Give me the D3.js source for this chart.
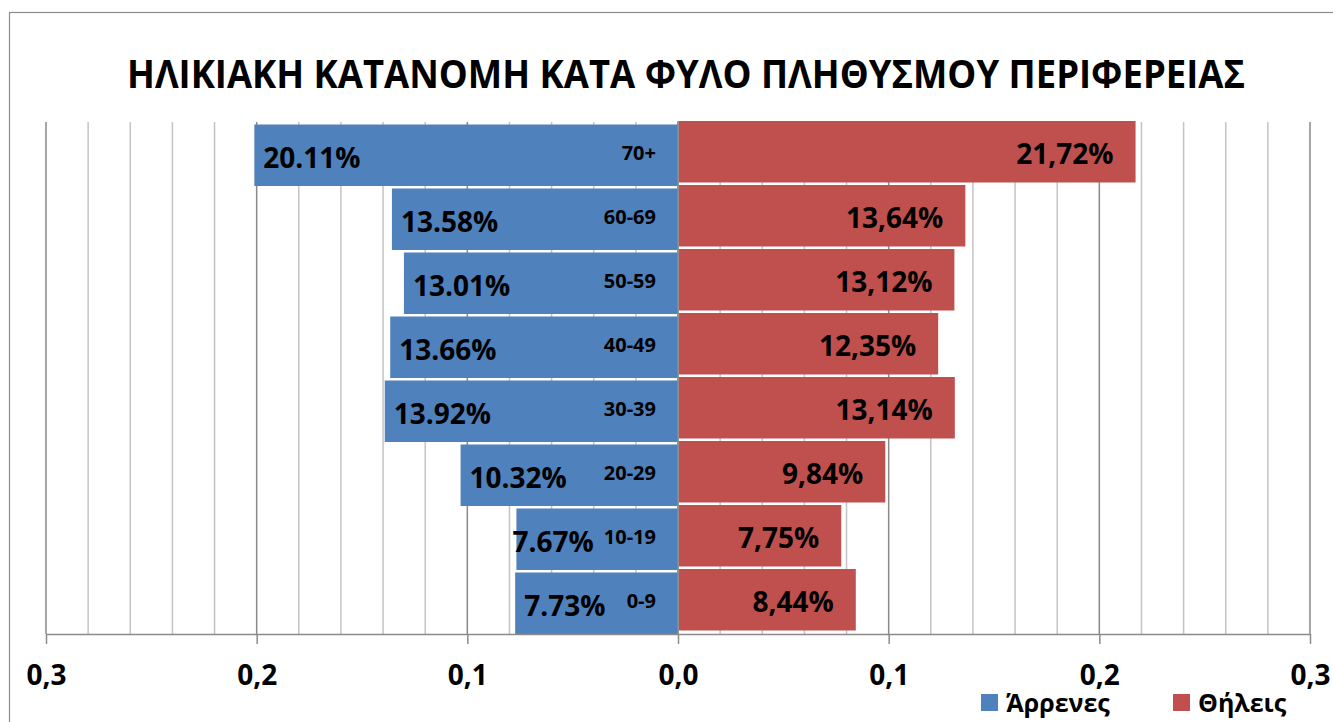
<!DOCTYPE html>
<html>
<head>
<meta charset="utf-8">
<script src="https://cdn.jsdelivr.net/npm/d3@7"></script>
<style>
  body { margin: 0; background: #fff; }
  svg { display: block; font-family: "Open Sans", "Noto Sans", sans-serif; font-weight: bold; }
</style>
</head>
<body>
<svg id="chart" width="1333" height="722"></svg>
<script>
// age groups, top to bottom
const ageGroups = ["70+", "60-69", "50-59", "40-49", "30-39", "20-29", "10-19", "0-9"];
const males = [0.2011, 0.1358, 0.1301, 0.1366, 0.1392, 0.1032, 0.0767, 0.0773];
const females = [0.2172, 0.1364, 0.1312, 0.1235, 0.1314, 0.0984, 0.0775, 0.0844];
const maleLabels = ["20.11%", "13.58%", "13.01%", "13.66%", "13.92%", "10.32%", "7.67%", "7.73%"];
const femaleLabels = ["21,72%", "13,64%", "13,12%", "12,35%", "13,14%", "9,84%", "7,75%", "8,44%"];
const xTicks = [-0.3, -0.2, -0.1, 0, 0.1, 0.2, 0.3];
const seriesNames = ["Άρρενες", "Θήλεις"];
const title = "ΗΛΙΚΙΑΚΗ ΚΑΤΑΝΟΜΗ ΚΑΤΑ ΦΥΛΟ ΠΛΗΘΥΣΜΟΥ ΠΕΡΙΦΕΡΕΙΑΣ";

const blue = "#4F81BD", red = "#C0504D";
const svg = d3.select("#chart");

// outer chart-area border (right/bottom edges fall outside the picture)
svg.append("rect")
    .attr("x", 9.5).attr("y", 12.5).attr("width", 1400).attr("height", 800)
    .attr("fill", "none").attr("stroke", "#8c8c8c").attr("stroke-width", 1.2);

const x = d3.scaleLinear().domain([-0.3, 0.3]).range([46, 1310]);
const y = d3.scaleBand().domain(ageGroups).range([122, 634]);
const bw = y.bandwidth();

// gridlines every 0.02, darker at every 0.1
const grid = d3.range(-15, 16).map(i => i * 0.02);
svg.append("g").selectAll("line").data(grid).join("line")
    .attr("x1", d => x(d)).attr("x2", d => x(d))
    .attr("y1", 122).attr("y2", 634)
    .attr("stroke", (d, i) => (i % 5 === 0) ? "#8a8a8a" : "#c4c4c4")
    .attr("stroke-width", 1.5);

// bars
const rows = ageGroups.map((g, i) => ({g, m: males[i], f: females[i], ml: maleLabels[i], fl: femaleLabels[i]}));

svg.append("g").selectAll("rect").data(rows).join("rect")
    .attr("x", d => x(-d.m)).attr("width", d => x(0) - x(-d.m))
    .attr("y", d => y(d.g) + 2.5).attr("height", bw - 2.5)
    .attr("fill", blue);

svg.append("g").selectAll("rect").data(rows).join("rect")
    .attr("x", x(0) + 1).attr("width", d => x(d.f) - x(0) - 1)
    .attr("y", d => y(d.g) - 1).attr("height", bw - 2.5)
    .attr("fill", red);

// vertical axis at zero
svg.append("line")
    .attr("x1", x(0)).attr("x2", x(0)).attr("y1", 121).attr("y2", 634)
    .attr("stroke", "#8a8a8a").attr("stroke-width", 1.5);

// bottom axis
const axis = d3.axisBottom(x).tickValues(xTicks).tickSize(10).tickSizeOuter(0)
    .tickFormat(d => Math.abs(d).toFixed(1).replace(".", ","));
const gx = svg.append("g").attr("transform", "translate(0,634)").call(axis);
gx.select(".domain").attr("stroke", "#8a8a8a").attr("stroke-width", 1.5);
gx.selectAll(".tick line").attr("stroke", "#8a8a8a").attr("stroke-width", 1.5);
gx.selectAll(".tick text")
    .attr("y", 51).attr("dy", 0)
    .attr("font-size", 28).attr("font-family", "Open Sans, Noto Sans, sans-serif")
    .attr("font-weight", "bold").attr("fill", "#000");

// category labels inside blue bars near the axis
const cats = svg.append("g").selectAll("text").data(ageGroups).join("text")
    .attr("x", x(0) - 22).attr("y", d => y(d) + bw / 2 + 6)
    .attr("text-anchor", "end")
    .attr("font-size", 20).attr("fill", "#000")
    .text(d => d);
const catW = cats.nodes().map(n => n.getComputedTextLength());

// value labels: near the bar end, pushed left if they would hit the age label
const mLab = svg.append("g").selectAll("text").data(rows).join("text")
    .attr("y", d => y(d.g) + bw / 2 + 14)
    .attr("font-size", 28).attr("fill", "#000")
    .text(d => d.ml);
mLab.each(function(d, i) {
    const w = this.getComputedTextLength();
    const limit = x(0) - 22 - catW[i] - 10 - w;
    d3.select(this).attr("x", Math.min(x(-d.m) + 9, limit));
});

svg.append("g").selectAll("text").data(rows).join("text")
    .attr("x", d => x(d.f) - 22).attr("y", d => y(d.g) + bw / 2 + 10)
    .attr("text-anchor", "end")
    .attr("font-size", 28).attr("fill", "#000")
    .text(d => d.fl);

// title
svg.append("text")
    .attr("x", 686).attr("y", 88)
    .attr("text-anchor", "middle")
    .attr("font-size", 39)
    .attr("textLength", 1118).attr("lengthAdjust", "spacingAndGlyphs")
    .text(title);

// legend
const legend = svg.append("g");
const legendX = [981, 1173];
[blue, red].forEach((c, i) => {
    legend.append("rect").attr("x", legendX[i]).attr("y", 694).attr("width", 17).attr("height", 17).attr("fill", c);
    legend.append("text").attr("x", legendX[i] + 25).attr("y", 712)
        .attr("font-size", 25).attr("font-weight", "bold").attr("fill", "#000").text(seriesNames[i]);
});
</script>
</body>
</html>
